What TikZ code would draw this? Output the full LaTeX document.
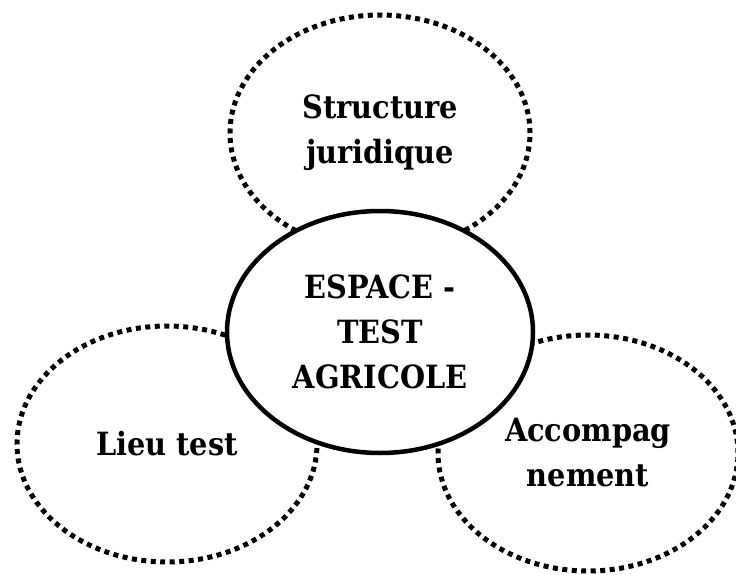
\documentclass[tikz,border=0pt]{standalone}
\usepackage{fontspec}
\setmainfont{DejaVu Serif Condensed}
\usetikzlibrary{shapes.geometric,positioning}

\begin{document}
\begin{tikzpicture}[
x=1pt,y=-1pt,
theme/.style={
	ellipse,
	draw,
	line width=5pt,
	dash pattern=on 5pt off 4.5pt,
	minimum width=300pt,
	minimum height=236pt,
	inner sep=0pt,
	align=center,
	font=\bfseries\fontsize{32}{45}\selectfont
},
core/.style={
	ellipse,
	draw,
	fill=white,
	line width=4.5pt,
	minimum width=306pt,
	minimum height=242pt,
	inner sep=0pt,
	align=center,
	font=\bfseries\fontsize{32}{45}\selectfont
}
]
\useasboundingbox (0,0) rectangle (736,575);

\node[theme] (structure) at (380,133) {Structure\\juridique};
\node[theme] (lieu) at (167,444) {Lieu test};
\node[theme] (accomp) at (588,453) {Accompag\\nement};

\node[core] (espace) at (380,332) {ESPACE -\\TEST\\AGRICOLE};
\end{tikzpicture}
\end{document}
